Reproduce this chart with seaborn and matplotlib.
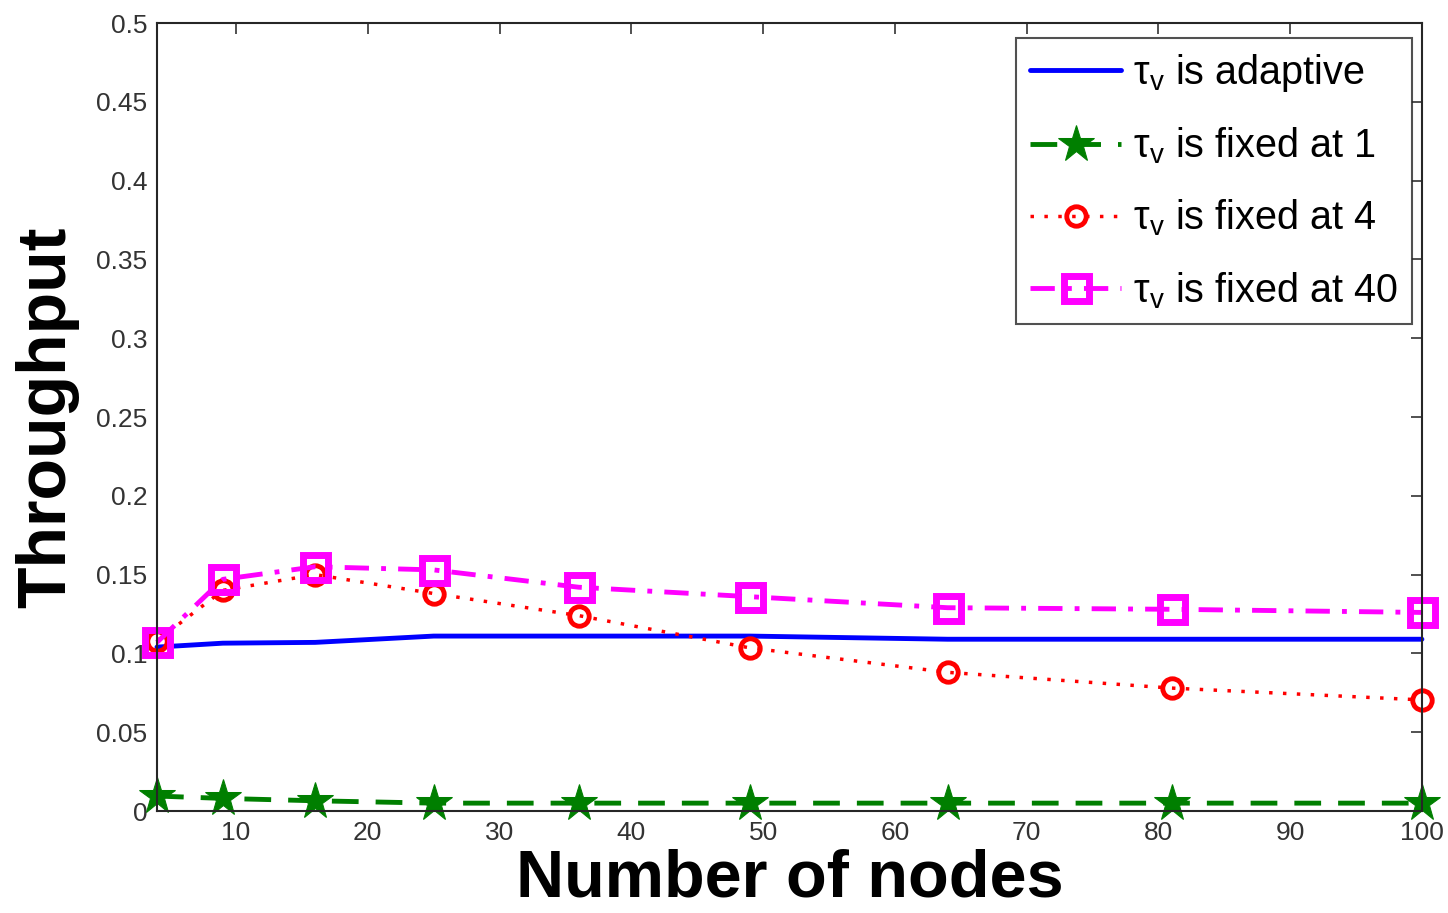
import numpy as np
import pandas as pd
import matplotlib
matplotlib.use("Agg")
import matplotlib.pyplot as plt
import seaborn as sns

nodes = [4, 9, 16, 25, 36, 49, 64, 81, 100]
adaptive = [0.104, 0.1065, 0.107, 0.111, 0.111, 0.111, 0.109, 0.109, 0.109]
fixed_1 = [0.0095, 0.008, 0.0065, 0.005, 0.005, 0.005, 0.005, 0.005, 0.005]
fixed_4 = [0.108, 0.140, 0.150, 0.138, 0.124, 0.1035, 0.088, 0.078, 0.0705]
fixed_40 = [0.107, 0.147, 0.155, 0.153, 0.142, 0.136, 0.129, 0.128, 0.126]
labels = [r"$\mathrm{\tau}_\mathrm{v}$ is adaptive",
          r"$\mathrm{\tau}_\mathrm{v}$ is fixed at 1",
          r"$\mathrm{\tau}_\mathrm{v}$ is fixed at 4",
          r"$\mathrm{\tau}_\mathrm{v}$ is fixed at 40"]
xticks = [10, 20, 30, 40, 50, 60, 70, 80, 90, 100]
yticks = [0, 0.05, 0.1, 0.15, 0.2, 0.25, 0.3, 0.35, 0.4, 0.45, 0.5]

sns.set_style("white")
plt.rcParams['font.family'] = ['Liberation Sans', 'DejaVu Sans']
plt.rcParams['mathtext.fontset'] = 'custom'
plt.rcParams['mathtext.rm'] = 'Liberation Sans'
plt.rcParams['mathtext.it'] = 'Liberation Sans:italic'

fig = plt.figure(figsize=(14.48, 9.13), dpi=100)
ax = fig.add_axes([0.1084, 0.1117, 0.8736, 0.8631])

sns.lineplot(x=nodes, y=adaptive, ax=ax, color='#0000ff', lw=3.5,
             linestyle='-', label=labels[0], clip_on=False)
sns.lineplot(x=nodes, y=fixed_1, ax=ax, color='#007f00', lw=3.5,
             linestyle=(0, (5.5, 3.5)), marker='*', markersize=28,
             markeredgecolor='#007f00', label=labels[1], clip_on=False)
sns.lineplot(x=nodes, y=fixed_4, ax=ax, color='#ff0000', lw=2.5,
             linestyle=(0, (1, 3)), marker='o', markersize=14,
             markerfacecolor='none', markeredgecolor='#ff0000',
             markeredgewidth=3.5, label=labels[2], clip_on=False)
sns.lineplot(x=nodes, y=fixed_40, ax=ax, color='#ff00ff', lw=3.5,
             linestyle=(0, (5, 2.5, 1, 2.5)), marker='s', markersize=18,
             markerfacecolor='none', markeredgecolor='#ff00ff',
             markeredgewidth=5, label=labels[3], clip_on=False)

ax.set_xlim(4, 100)
ax.set_ylim(0, 0.5)
ax.set_xticks(xticks)
ax.set_yticks(yticks)
ax.set_yticklabels([f"{v:g}" for v in yticks])
ax.tick_params(direction='in', length=8, width=1.2, top=True, right=True,
               labelsize=19, colors='#333333', pad=7)
for s in ax.spines.values():
    s.set_color('#262626')
    s.set_linewidth(1.5)

ax.set_xlabel("Number of nodes", fontsize=48, fontweight='bold', labelpad=3,
              color='black')
ax.set_ylabel("Throughput", fontsize=49, fontweight='bold', labelpad=12,
              color='black')

leg = ax.legend(loc='upper right', bbox_to_anchor=(0.992, 0.981), fontsize=28.5,
                frameon=True, fancybox=False, edgecolor='#262626',
                handlelength=2.3, handletextpad=0.3, labelspacing=0.8,
                borderpad=0.35, borderaxespad=0.0)
leg.get_frame().set_linewidth(1.5)
for t in leg.get_texts():
    t.set_color('black')

fig.savefig("out.png", dpi=100)
